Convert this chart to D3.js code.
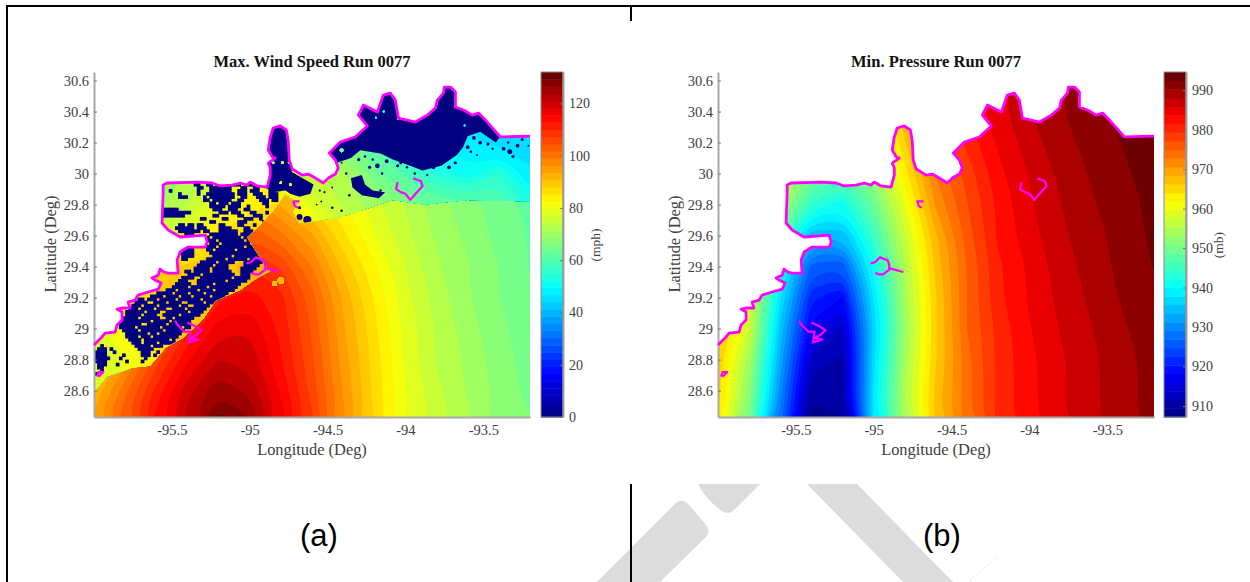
<!DOCTYPE html>
<html>
<head>
<meta charset="utf-8">
<script src="https://cdn.jsdelivr.net/npm/d3@7"></script>
<style>
    html, body { margin: 0; padding: 0; background: #fff; }
    svg { display: block; }
    text { font-family: "Liberation Serif", serif; fill: #404040; }
</style>
</head>
<body>
<div id="chart"></div>
<script>
// grid axes
const gridLons = [-96, -95.8, -95.6, -95.4, -95.2, -95, -94.8, -94.6, -94.4, -94.2, -94, -93.8, -93.6, -93.4, -93.2];

// max wind over open water (mph), rows from lat 28.4 going north in 0.2 steps
const windSea = [
    [95, 104, 114, 122, 131, 127, 117, 108, 97, 88, 80, 76, 72, 68, 66],
    [91, 101, 111, 120, 126, 123, 115, 106, 96, 87, 80, 75, 71, 68, 65],
    [86, 95, 106, 115, 121, 120, 113, 105, 95, 87, 79, 74, 71, 67, 65],
    [80, 88, 100, 110, 117, 118, 112, 104, 94, 86, 79, 74, 70, 67, 64],
    [75, 82, 94, 104, 112, 114, 111, 103, 93, 85, 78, 73, 69, 66, 64],
    [72, 78, 90, 100, 107, 110, 107, 99, 90, 83, 77, 72, 69, 66, 63],
    [70, 75, 85, 95, 102, 104, 100, 94, 86, 80, 75, 71, 68, 65, 63],
    [70, 75, 82, 90, 96, 98, 93, 88, 83, 78, 74, 70, 67, 65, 62],
    [70, 75, 80, 87, 92, 92, 88, 84, 80, 76, 72, 69, 66, 64, 62],
    [70, 75, 78, 84, 88, 88, 85, 81, 78, 74, 71, 68, 65, 63, 61]
];

// max wind over land (mph), rows from lat 28.6 going north in 0.2 steps
const windLand = [
    [78, 80, 84, 88, 90, 90, 90, 90, 88, 80, 74, 70, 66, 62, 60],
    [76, 80, 85, 88, 90, 90, 90, 90, 88, 80, 74, 70, 66, 62, 60],
    [78, 82, 88, 90, 90, 90, 90, 90, 88, 80, 74, 70, 66, 62, 60],
    [80, 86, 88, 90, 90, 90, 90, 90, 86, 80, 74, 68, 64, 60, 58],
    [82, 86, 88, 88, 90, 92, 92, 90, 84, 76, 70, 64, 60, 58, 56],
    [75, 74, 76, 80, 86, 88, 90, 88, 78, 72, 68, 64, 62, 62, 56],
    [70, 68, 70, 74, 80, 84, 86, 78, 74, 70, 66, 62, 62, 62, 53],
    [68, 67, 68, 72, 77, 80, 80, 75, 72, 64, 60, 54, 50, 55, 47],
    [68, 67, 67, 70, 72, 72, 70, 68, 66, 60, 52, 50, 47, 46, 46],
    [68, 67, 67, 70, 72, 72, 70, 68, 66, 60, 55, 50, 47, 45, 45],
    [68, 67, 67, 70, 72, 72, 70, 68, 66, 60, 55, 50, 47, 45, 45]
];

// min pressure (mb), rows from lat 28.4 going north in 0.2 steps
const pressure = [
    [964, 950, 928, 908, 909, 938, 955, 967, 974, 980, 983, 985.5, 987.5, 989.5, 991],
    [965, 952, 930, 910, 911, 938, 955, 967, 974, 980, 983, 985.5, 987.5, 989.5, 991],
    [966, 954, 933, 913, 911, 937, 954, 966, 974, 980, 983, 985.5, 987.5, 989.5, 991],
    [968, 958, 935, 917, 913, 936, 953, 966, 975, 980, 983.5, 986, 988, 990, 991.5],
    [968, 958, 938, 921, 918, 938, 954, 966, 975, 981, 984, 986.5, 988.5, 990.5, 992],
    [968, 960, 942, 926, 925, 941, 955, 967, 975, 981, 984, 987, 989, 991, 992.5],
    [968, 962, 948, 934, 934, 945, 957, 968, 976, 982, 985, 987.5, 989.5, 991, 993],
    [968, 962, 955, 944, 941, 949, 960, 971, 977, 982, 985.5, 988, 990, 991.5, 993],
    [968, 963, 957, 950, 947, 953, 963, 973, 978, 983, 986, 988.5, 990.5, 992, 993.5],
    [968, 965, 958, 953, 951, 956, 966, 975, 980, 984, 987, 989.5, 991, 992.5, 994],
    [968, 965, 960, 955, 954, 960, 968, 976, 982, 985, 988, 990, 992, 993, 994],
    [968, 965, 960, 955, 954, 960, 968, 976, 982, 985, 988, 990, 992, 993, 994]
];

// study area boundary [lon, lat]
const coast = [
    [-96, 28.894], [-95.949, 28.946], [-95.929, 28.971], [-95.865, 28.978], [-95.852, 29.023], [-95.82, 29.055],
    [-95.82, 29.107], [-95.852, 29.126], [-95.814, 29.133], [-95.769, 29.133], [-95.781, 29.171], [-95.736, 29.184],
    [-95.717, 29.216], [-95.653, 29.236], [-95.588, 29.255], [-95.569, 29.294], [-95.608, 29.313], [-95.627, 29.326],
    [-95.588, 29.345], [-95.576, 29.384], [-95.55, 29.365], [-95.524, 29.358], [-95.46, 29.358], [-95.466, 29.442],
    [-95.447, 29.494], [-95.396, 29.526], [-95.286, 29.526], [-95.273, 29.558], [-95.286, 29.603], [-95.447, 29.591],
    [-95.524, 29.636], [-95.563, 29.681], [-95.556, 29.874], [-95.556, 29.926], [-95.531, 29.939], [-95.338, 29.945],
    [-95.241, 29.939], [-95.19, 29.92], [-95.113, 29.926], [-95.061, 29.939], [-95.016, 29.926], [-94.997, 29.945],
    [-94.952, 29.92], [-94.888, 29.913], [-94.868, 29.99], [-94.868, 30.036], [-94.881, 30.068], [-94.836, 30.1],
    [-94.855, 30.107], [-94.881, 30.152], [-94.868, 30.236], [-94.849, 30.294], [-94.804, 30.307], [-94.765, 30.281],
    [-94.753, 30.216], [-94.746, 30.087], [-94.727, 30.029], [-94.663, 29.99], [-94.624, 29.997], [-94.579, 29.971],
    [-94.528, 29.939], [-94.495, 29.971], [-94.45, 29.997], [-94.431, 30.036], [-94.45, 30.087], [-94.489, 30.132],
    [-94.418, 30.203], [-94.322, 30.236], [-94.245, 30.307], [-94.302, 30.377], [-94.27, 30.442], [-94.18, 30.397],
    [-94.142, 30.506], [-94.097, 30.519], [-94.065, 30.474], [-94.045, 30.358], [-93.936, 30.332], [-93.859, 30.377],
    [-93.807, 30.423], [-93.795, 30.474], [-93.756, 30.519], [-93.75, 30.558], [-93.711, 30.558], [-93.679, 30.526],
    [-93.679, 30.429], [-93.627, 30.41], [-93.57, 30.377], [-93.531, 30.39], [-93.486, 30.345], [-93.39, 30.236],
    [-93.2, 30.242]
];

// inner boundary lines [lon, lat]
const innerLines = [
    [[-94.05, 29.945], [-94.06, 29.9], [-94.03, 29.88], [-94, 29.87], [-93.97, 29.83], [-93.89, 29.92], [-93.9, 29.95], [-93.95, 29.97]],
    [[-94.68, 29.82], [-94.72, 29.82], [-94.71, 29.79], [-94.69, 29.78]],
    [[-95.02, 29.42], [-94.99, 29.43], [-94.96, 29.46], [-94.91, 29.44], [-94.9, 29.41], [-94.9, 29.38], [-94.94, 29.35], [-94.97, 29.35], [-94.99, 29.36]],
    [[-94.9, 29.39], [-94.81, 29.365]],
    [[-95.48, 29.05], [-95.46, 29.02], [-95.42, 28.98], [-95.38, 28.98], [-95.39, 28.91], [-95.33, 28.93], [-95.38, 28.94], [-95.34, 28.96], [-95.31, 28.99], [-95.34, 29.01], [-95.4, 29.04]],
    [[-95.98, 28.69], [-95.97, 28.72], [-95.94, 28.72], [-95.97, 28.69]]
];

// edge between the smooth water field and the mottled land field
const shoreline = [
    [-96, 28.59], [-95.92, 28.69], [-95.75, 28.75], [-95.64, 28.76], [-95.54, 28.88], [-95.43, 28.94], [-95.3, 29.06],
    [-95.22, 29.18], [-95.06, 29.25], [-94.95, 29.33], [-94.87, 29.37], [-94.92, 29.43], [-95.02, 29.59], [-94.95, 29.65],
    [-94.85, 29.76], [-94.77, 29.87], [-94.69, 29.81], [-94.72, 29.75], [-94.68, 29.68], [-94.42, 29.72], [-94.29, 29.76],
    [-94.08, 29.83], [-93.88, 29.8], [-93.6, 29.83], [-93.2, 29.82], [-93.2, 30.7], [-96, 30.7]
];

// large areas with no wind value (drawn at 0 mph)
const dryAreas = [
    [[-94.51, 30.15], [-94.44, 30.07], [-94.35, 30.1], [-94.29, 30.15], [-94.16, 30.13], [-94.08, 30.09], [-93.97, 30.05], [-93.89, 30.02], [-93.77, 30.05], [-93.67, 30.12], [-93.63, 30.17], [-93.6, 30.24], [-93.52, 30.27], [-93.42, 30.2], [-93.39, 30.24], [-93.39, 30.6], [-94.6, 30.6]],
    [[-94.91, 30.31], [-94.71, 30.31], [-94.73, 30.01], [-94.66, 29.97], [-94.59, 29.93], [-94.61, 29.87], [-94.68, 29.85], [-94.74, 29.87], [-94.77, 29.89], [-94.85, 29.88], [-94.9, 29.91]],
    [[-94.35, 29.97], [-94.28, 29.99], [-94.26, 29.93], [-94.21, 29.89], [-94.13, 29.88], [-94.17, 29.84], [-94.28, 29.86], [-94.34, 29.91]]
];

// small dry spots east of the mask [lon, lat, radius in degrees]
const drySpots = [
    [-94.68, 29.72, 0.019], [-94.63, 29.7, 0.026], [-94.63, 29.67, 0.019], [-94.68, 29.78, 0.01],
    [-94.41, 30.07, 0.006], [-94.38, 30, 0.008], [-94.36, 29.86, 0.008], [-94.23, 30.04, 0.01], [-94.18, 30.05, 0.015],
    [-94.15, 30, 0.008], [-94.21, 30.09, 0.008], [-94.16, 29.89, 0.008], [-94.55, 29.89, 0.007], [-94.52, 29.88, 0.007],
    [-94.47, 29.91, 0.006], [-94.47, 29.78, 0.008], [-94.41, 29.76, 0.008], [-94.54, 29.82, 0.006], [-94.57, 29.8, 0.006],
    [-94.54, 29.67, 0.007], [-94.37, 29.65, 0.004], [-94.03, 30.07, 0.01], [-93.99, 30.04, 0.008], [-93.84, 30.09, 0.01],
    [-93.82, 30.04, 0.012], [-93.6, 30.17, 0.012], [-93.58, 30.14, 0.008], [-93.56, 30.23, 0.012], [-93.37, 30.16, 0.012],
    [-93.33, 30.14, 0.016], [-93.28, 30.18, 0.012], [-93.25, 30.22, 0.01], [-93.34, 30.2, 0.008], [-93.31, 30.11, 0.01],
    [-93.21, 30.18, 0.006], [-93.54, 30.12, 0.006], [-94.12, 30.08, 0.012], [-94.05, 30.05, 0.01], [-93.94, 30.0, 0.008],
    [-93.86, 29.99, 0.007], [-93.72, 30.04, 0.012], [-93.68, 30.07, 0.01], [-94.3, 30.09, 0.01], [-94.26, 30.11, 0.008],
    [-93.44, 30.16, 0.008], [-93.47, 30.19, 0.01], [-93.52, 30.2, 0.012]
];

// spots inside the dry areas that do have a wind value
const wetSpots = [
    [-94.8, 29.31, 0.02], [-94.84, 29.29, 0.015],
    [-94.14, 30.4, 0.006], [-94.19, 30.36, 0.006], [-94.05, 30.35, 0.005], [-94.41, 30.15, 0.012], [-93.62, 30.31, 0.006],
    [-94.85, 30.07, 0.008], [-94.79, 30.07, 0.008], [-94.75, 30.07, 0.005], [-94.8, 29.94, 0.008], [-94.74, 29.93, 0.008]
];

// mottled dry cells west of -94.84: # is dry, one char is 0.02 deg, rows go south from lat 29.96
const dryMaskLon = -96;
const dryMaskLat = 29.96;
const dryMask = [
    "..................................................#.......",
    "................................##..##.##...###..##...###",
    ".................................##..#######...##..##....#",
    "........................#........#...#######..###.###...##",
    "...........................#.....#..#########.###..###..###",
    "...........................###.....#.########..##...###.###",
    "...................................##.######..##.....###.##",
    ".....................................##.###.###.......##...",
    ".....................................#####.####..#.....#...",
    "......................#####...........###..###..##........",
    "......................#########.........###.###...##...#...",
    "......................#######.........##......##...###.....",
    "..................................##.....##.....###..#......",
    ".....................................##.......###.....##....",
    "...........................##.##.##.....##....##...#.......",
    "..........................######.###....####....##........",
    "...........................#######.##...######..###........",
    ".............................###.....#########.####.......",
    "....................................#.#########.####.......",
    "....................................###.########.###.......",
    ".....................................###.#########.##......",
    "....................................###.########.####......",
    "............................####....##.######.######.##....",
    "...........................#####.....################......",
    "............................####......######.########......",
    "............................##......######.######.###......",
    "..................................#####.#####...######......",
    ".................................#####.####.....#####......",
    "................................#####.#####....#####.......",
    ".............................##.#####.######...####.......",
    "..............................####.##########..###.........",
    "............................####..##########.#####.........",
    "...........................###...#########.######..........",
    "..........................#####..#####.########............",
    ".........................#####.#####.#########.............",
    ".......................###.######.####.######..............",
    "....................#####.####.####.#######................",
    "..................####.####.###.#####.####.................",
    "..............##.###.#####.#######.######..................",
    ".............####..####.####..#####.###....................",
    "............###.####.######.##..#####......................",
    "...........###.####.###..####.######......................",
    "..........######.####..#######.####........................",
    "..........#####.####..#####.######.........................",
    ".........#####.######..##.######...........................",
    ".........#########.#####.######............................",
    "........#######..######.#######............................",
    "........#####.#######.######.##............................",
    ".........#####.#######.######...............................",
    "..........#######.##.#######................................",
    "..........####.###.########.................................",
    "...........####.########.#...................................",
    "............###.####.#####..................................",
    "..#..........#####.###......................................",
    ".###.#........#####..........................................",
    "####..#........###..#........................................",
    "####.....#.....###.#.........................................",
    "#####...#.......#..............................................",
    "####......#....#",
    ".###...#",
    ".##",
    "..#",
    "#"
];

const lonTicks = [-95.5, -95, -94.5, -94, -93.5];
const latTicks = [28.6, 28.8, 29, 29.2, 29.4, 29.6, 29.8, 30, 30.2, 30.4, 30.6];
const windTicks = [0, 20, 40, 60, 80, 100, 120];
const pressureTicks = [910, 920, 930, 940, 950, 960, 970, 980, 990];

const svg = d3.select("#chart").append("svg")
    .attr("width", 1250)
    .attr("height", 582);

// watermark first, the white page covers it above y = 484
const watermark = [
    "M597,582 L677,502 Q684,498 690,506 L706,525 Q711,532 706,537 L660,582 Z",
    "M698,484 L760,484 L733,511 Q728,515 722,511 Q706,500 698,484 Z",
    "M807,484 L857,484 L953,582 L903,582 Z"
];
svg.selectAll(".mark").data(watermark).enter().append("path")
    .attr("d", d => d)
    .attr("fill", "#dcdcdc");
svg.append("line").attr("x1", 997).attr("y1", 557).attr("x2", 968).attr("y2", 582)
    .attr("stroke", "#ededed");

// page frame
const frame = [[7, 582, 7, 6], [6, 6, 1250, 6], [631, 6, 631, 21], [631, 484, 631, 582]];
svg.selectAll(".frame").data(frame).enter().append("line")
    .attr("x1", d => d[0]).attr("y1", d => d[1])
    .attr("x2", d => d[2]).attr("y2", d => d[3])
    .attr("stroke", "#000")
    .attr("stroke-width", 2);

const jet = d3.scaleLinear()
    .domain([0, 0.125, 0.375, 0.625, 0.87, 1])
    .range(["#000080", "#0000ff", "#00ffff", "#ffff00", "#ff0000", "#5e0000"]);

// one panel: axes, colour bar and labels, returns what the field layers need
function makePanel(id, left, top, title, barDomain, levelCount, barTicks, unit, barLeft, unitX) {
    const width = 436, height = 345;
    const x = d3.scaleLinear().domain([-96, -93.2]).range([left, left + width]);
    const y = d3.scaleLinear().domain([28.43, 30.655]).range([top + height, top]);
    const levelStep = (barDomain[1] - barDomain[0]) / levelCount;
    const levels = d3.range(levelCount).map(i => barDomain[0] + i * levelStep);
    const bandColor = v => jet((v + levelStep / 2 - barDomain[0]) / (barDomain[1] - barDomain[0]));

    const line = d3.line().x(d => x(d[0])).y(d => y(d[1]));
    const defs = svg.append("defs");
    const domainArea = coast.concat([[-93.2, 28.43], [-96, 28.43]]);
    defs.append("clipPath").attr("id", id + "-area").append("path").attr("d", line(domainArea) + "Z");

    const field = svg.append("g").attr("clip-path", "url(#" + id + "-area)");

    // filled contour bands from a lon/lat grid, rings drawn as smooth curves
    function drawBands(parent, grid, lat0) {
        const contours = d3.contours()
            .size([grid[0].length, grid.length])
            .thresholds(levels)(grid.flat());
        const ringLine = d3.line()
            .x(p => x(gridLons[0] + (p[0] - 0.5) * 0.2))
            .y(p => y(lat0 + (p[1] - 0.5) * 0.2))
            .curve(d3.curveBasisClosed);
        parent.selectAll("path").data(contours).enter().append("path")
            .attr("d", d => d.coordinates.flatMap(poly => poly.map(ring => ringLine(ring.slice(0, -1)))).join(""))
            .attr("fill-rule", "evenodd")
            .attr("fill", d => bandColor(d.value));
    }

    // colour bar
    const barY = d3.scaleLinear().domain(barDomain).range([top + height, top]);
    svg.selectAll(".bar-" + id).data(levels).enter().append("rect")
        .attr("x", barLeft)
        .attr("width", 22)
        .attr("y", d => barY(d + levelStep))
        .attr("height", d => barY(d) - barY(d + levelStep) + 0.5)
        .attr("fill", bandColor);
    const barAxis = svg.append("g")
        .attr("transform", "translate(" + (barLeft + 22) + ",0)")
        .call(d3.axisRight(barY).tickValues(barTicks).tickSize(-3).tickSizeOuter(0).tickPadding(6));
    styleAxis(barAxis, 14);
    svg.append("rect")
        .attr("x", barLeft).attr("y", top).attr("width", 22).attr("height", height)
        .attr("fill", "none").attr("stroke", "#8c8c8c");

    // axes
    const yAxis = svg.append("g")
        .attr("transform", "translate(" + left + ",0)")
        .call(d3.axisLeft(y).tickValues(latTicks).tickFormat(d => d).tickSize(-3).tickSizeOuter(0).tickPadding(5));
    styleAxis(yAxis, 14.5);
    const xAxis = svg.append("g")
        .attr("transform", "translate(0," + (top + height) + ")")
        .call(d3.axisBottom(x).tickValues(lonTicks).tickFormat(d => d).tickSize(0).tickPadding(8));
    styleAxis(xAxis, 14.5);

    svg.append("text").attr("x", left + 218).attr("y", 67)
        .attr("text-anchor", "middle")
        .attr("font-size", 16.5).attr("font-weight", "bold")
        .style("fill", "#111")
        .text(title);
    svg.append("text").attr("x", left + 218).attr("y", 455)
        .attr("text-anchor", "middle")
        .attr("font-size", 16.4)
        .text("Longitude (Deg)");
    svg.append("text")
        .attr("transform", "translate(" + (left - 38) + "," + (top + 172) + ") rotate(-90)")
        .attr("text-anchor", "middle")
        .attr("font-size", 16.4)
        .text("Latitude (Deg)");
    svg.append("text")
        .attr("transform", "translate(" + unitX + "," + (top + 173) + ") rotate(-90)")
        .attr("text-anchor", "middle")
        .attr("font-size", 13.5)
        .text(unit);

    return { id, x, y, line, defs, field, drawBands };
}

function styleAxis(axis, fontSize) {
    axis.selectAll("text").attr("font-size", fontSize).style("font-family", '"Liberation Serif", serif').style("fill", "#404040");
    axis.selectAll("line").attr("stroke", "#777");
    axis.selectAll(".domain").attr("stroke", "#a8a8a8").attr("stroke-width", 2);
}

function drawBoundary(panel) {
    const g = svg.append("g")
        .attr("fill", "none")
        .attr("stroke", "#ff00ff")
        .attr("stroke-linejoin", "round");
    g.append("path").attr("d", panel.line(coast)).attr("stroke-width", 2.8);
    g.selectAll(".inner").data(innerLines).enter().append("path")
        .attr("d", panel.line)
        .attr("stroke-width", 2.2);
}

// left panel
const windPanel = makePanel("wind", 94, 72, "Max. Wind Speed Run 0077", [0, 132], 48, windTicks, "(mph)", 541, 600);
const windField = windPanel.field.append("g").style("filter", "blur(0.6px)");
windPanel.drawBands(windField.append("g"), windSea, 28.4);

windPanel.defs.append("clipPath").attr("id", "wind-land").append("path").attr("d", windPanel.line(shoreline) + "Z");
const landLayer = windField.append("g").attr("clip-path", "url(#wind-land)");
windPanel.drawBands(landLayer.append("g"), windLand, 28.6);

const dry = landLayer.append("g").attr("fill", "#000080");
dry.selectAll("path").data(dryAreas).enter().append("path")
    .attr("d", d => windPanel.line(d) + "Z");
dry.selectAll("circle").data(drySpots).enter().append("circle")
    .attr("cx", d => windPanel.x(d[0]))
    .attr("cy", d => windPanel.y(d[1]))
    .attr("r", d => windPanel.x(d[0] + d[2]) - windPanel.x(d[0]));

// one rect per # in the mask
const dryCells = [];
dryMask.forEach((row, r) => {
    row.split("").forEach((c, i) => {
        if (c === "#") dryCells.push([dryMaskLon + i * 0.02, dryMaskLat - r * 0.02]);
    });
});
dry.selectAll("rect").data(dryCells).enter().append("rect")
    .attr("x", d => windPanel.x(d[0]))
    .attr("y", d => windPanel.y(d[1]))
    .attr("width", d => windPanel.x(d[0] + 0.02) - windPanel.x(d[0]) + 0.6)
    .attr("height", d => windPanel.y(d[1] - 0.02) - windPanel.y(d[1]) + 0.6);

// land colours show through the wet spots
windPanel.defs.append("clipPath").attr("id", "wind-wet").selectAll("circle").data(wetSpots).enter().append("circle")
    .attr("cx", d => windPanel.x(d[0]))
    .attr("cy", d => windPanel.y(d[1]))
    .attr("r", d => windPanel.x(d[0] + d[2]) - windPanel.x(d[0]));
windPanel.drawBands(windField.append("g").attr("clip-path", "url(#wind-wet)"), windLand, 28.6);
drawBoundary(windPanel);

// right panel
const pressurePanel = makePanel("pres", 718, 72, "Min. Pressure Run 0077", [907.2, 994.6], 40, pressureTicks, "(mb)", 1164, 1223);
pressurePanel.drawBands(pressurePanel.field.append("g"), pressure, 28.4);
drawBoundary(pressurePanel);

// panel captions
const captions = [[319, "(a)"], [942, "(b)"]];
svg.selectAll(".caption").data(captions).enter().append("text")
    .attr("x", d => d[0])
    .attr("y", 546)
    .attr("text-anchor", "middle")
    .attr("font-size", 31)
    .style("font-family", '"Liberation Sans", sans-serif')
    .style("fill", "#000")
    .text(d => d[1]);
</script>
</body>
</html>
